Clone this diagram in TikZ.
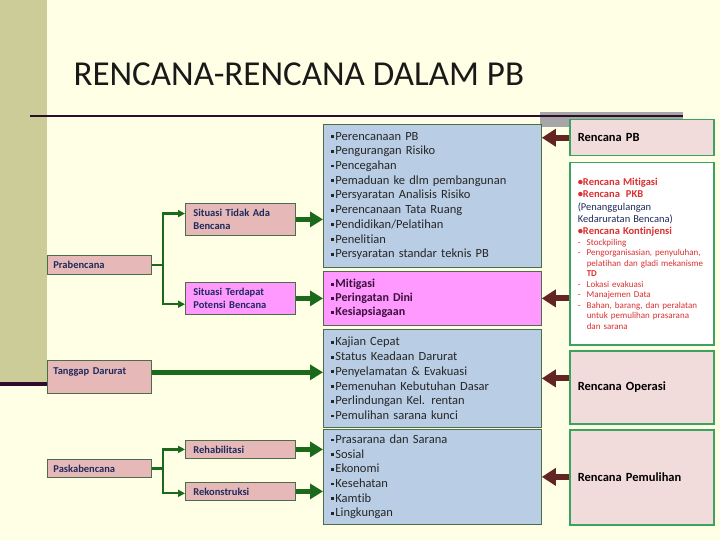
\documentclass[tikz,border=0pt]{standalone}
\usepackage{fontspec}
\setmainfont[Ligatures=NoCommon]{Carlito}
\usepackage{xcolor}
\usepackage{tikz}
\usetikzlibrary{arrows.meta,positioning,calc}
\definecolor{cream}{HTML}{FFFFE5}
\definecolor{khaki}{HTML}{CCCC99}
\definecolor{plum}{HTML}{2E0C2E}
\definecolor{shadowgray}{HTML}{A6A6A6}
\definecolor{stagepink}{HTML}{E6B9B8}
\definecolor{planpink}{HTML}{F2DCDB}
\definecolor{actblue}{HTML}{B9CDE5}
\definecolor{actpink}{HTML}{FF99FF}
\definecolor{edgegreen}{HTML}{4A6E48}
\definecolor{planedge}{HTML}{3AA35F}
\definecolor{flowgreen}{HTML}{1B6A1B}
\definecolor{backbrown}{HTML}{632523}
\definecolor{navytext}{HTML}{1F2A5C}
\definecolor{redtext}{HTML}{DA3030}
\definecolor{darkplum}{HTML}{3B0F3B}
\newcommand{\sqb}{\rule[0.35ex]{2.8pt}{2.8pt}\hspace{1.2pt}}
\newcommand{\dashitem}[1]{\mbox{\makebox[9pt][l]{-}#1}}
\newcommand{\dashcont}[1]{\mbox{\hspace*{9pt}#1}}
\newcommand{\planhead}{\fontsize{10.5}{12}\selectfont}

\begin{document}
\begin{tikzpicture}[
  x=1pt, y=-1pt,
  stage/.style={draw=edgegreen, line width=0.8pt, fill=stagepink, anchor=north west, inner xsep=6pt, inner ysep=2pt, text width=92pt, minimum width=104pt, align=left, font=\fontsize{10.5}{12.5}\selectfont\bfseries, text=navytext},
  situ/.style={stage, inner xsep=8pt, text width=94pt, minimum width=110pt},
  act/.style={draw=edgegreen, line width=0.8pt, fill=actblue, anchor=north west, inner xsep=8pt, text width=202pt, minimum width=218pt, align=left, font=\fontsize{12.5}{14.7}\selectfont, text=black!85},
  plan/.style={draw=planedge, line width=1.5pt, fill=planpink, anchor=north west, inner xsep=8pt, text width=128pt, minimum width=144pt, align=left, font=\fontsize{12.5}{14}\selectfont\bfseries},
  branch/.style={draw=flowgreen, line width=2.2pt, -{Triangle[length=7pt,width=7pt]}},
  push/.style={draw=flowgreen, line width=5pt, -{Triangle[length=13pt,width=15pt]}},
  back/.style={draw=backbrown, line width=6pt, -{Triangle[length=14pt,width=17pt]}},
  ]
  \useasboundingbox (0,0) rectangle (720,540);
  \fill[cream] (0,0) rectangle (720,540);
  \fill[khaki] (0,0) rectangle (47,382);
  \fill[plum] (0,382) rectangle (47,386);
  \fill[shadowgray] (540,112) rectangle (683,127);
  \draw[plum, line width=2.5pt] (30,116) -- (683,116);

  \node[anchor=base west, font=\fontsize{35}{40}\selectfont, text=black!90] (title) at (70,86) {RENCANA-RENCANA DALAM PB};

  \node[stage, minimum height=19pt] (pra) at (47,255) {Prabencana};
  \node[stage, minimum height=33pt] (td) at (47,360) {Tanggap Darurat\\\mbox{}};
  \node[stage, minimum height=18pt] (pas) at (47,459) {Paskabencana};

  \node[situ, minimum height=32pt] (sit1) at (185,203) {Situasi Tidak Ada\\Bencana};
  \node[situ, minimum height=32pt, fill=actpink] (sit2) at (185,282) {Situasi Terdapat\\Potensi Bencana};
  \node[situ, minimum height=18pt] (reh) at (185,440) {Rehabilitasi};
  \node[situ, minimum height=18pt] (rek) at (185,482) {Rekonstruksi};

  \node[act, minimum height=143pt] (m1) at (323,124) {\sqb Perencanaan PB\\\sqb Pengurangan Risiko\\\sqb Pencegahan\\\sqb Pemaduan ke dlm pembangunan\\\sqb Persyaratan Analisis Risiko\\\sqb Perencanaan Tata Ruang\\\sqb Pendidikan/Pelatihan\\\sqb Penelitian\\\sqb Persyaratan standar teknis PB};
  \node[act, minimum height=54pt, fill=actpink, text=darkplum, font=\fontsize{12}{14}\selectfont\bfseries] (m2) at (323,271) {\sqb Mitigasi\\\sqb Peringatan Dini\\\sqb Kesiapsiagaan};
  \node[act, minimum height=98pt] (m3) at (323,329) {\sqb Kajian Cepat\\\sqb Status Keadaan Darurat\\\sqb Penyelamatan \& Evakuasi\\\sqb Pemenuhan Kebutuhan Dasar\\\sqb Perlindungan Kel. rentan\\\sqb Pemulihan sarana kunci};
  \node[act, minimum height=95pt] (m4) at (323,429) {\sqb Prasarana dan Sarana\\\sqb Sosial\\\sqb Ekonomi\\\sqb Kesehatan\\\sqb Kamtib\\\sqb Lingkungan};

  \node[plan, minimum height=36pt] (rpb) at (569,119) {Rencana PB};
  \node[plan, minimum height=182pt, fill=white, text=redtext, font=\fontsize{9}{10.5}\selectfont] (rkon) at (569,162) {{\planhead\bfseries •Rencana Mitigasi}\\[1.8pt]{\planhead\bfseries •Rencana\ \ PKB}\\[1.8pt]{\planhead\color{navytext}(Penanggulangan}\\[1.8pt]{\planhead\color{navytext}Kedaruratan Bencana)}\\[1.8pt]{\planhead\bfseries •Rencana Kontinjensi}\\\dashitem{Stockpiling}\\\dashitem{Pengorganisasian, penyuluhan,}\\\dashcont{pelatihan dan gladi mekanisme}\\\dashcont{{\bfseries TD}}\\\dashitem{Lokasi evakuasi}\\\dashitem{Manajemen Data}\\\dashitem{Bahan, barang, dan peralatan}\\\dashcont{untuk pemulihan prasarana}\\\dashcont{dan sarana}};
  \node[plan, minimum height=73pt] (rop) at (569,350) {Rencana Operasi};
  \node[plan, minimum height=95pt] (rpl) at (569,429) {Rencana Pemulihan};

  \draw[branch] (pra.east) -- ++(11,0) |- (sit1.174);
  \draw[branch] (pra.east) -- ++(11,0) |- (sit2.186);
  \draw[branch] (pas.east) -- ++(11,0) |- (reh.west);
  \draw[branch] (pas.east) -- ++(11,0) |- (rek.182);

  \draw[push] (sit1.east) -- (sit1.east -| m1.west);
  \draw[push] (sit2.east) -- (sit2.east -| m2.west);
  \draw[push] (td.5) -- (td.5 -| m3.west);
  \draw[push] (reh.east) -- (reh.east -| m4.west);
  \draw[push] (rek.east) -- (rek.east -| m4.west);

  \draw[back] (rpb.west) -- (rpb.west -| m1.east);
  \draw[back] (rkon.west |- m2.east) -- (m2.east);
  \draw[back] (rop.west |- m3.east) -- (m3.east);
  \draw[back] (rpl.west |- m4.east) -- (m4.east);
\end{tikzpicture}
\end{document}
